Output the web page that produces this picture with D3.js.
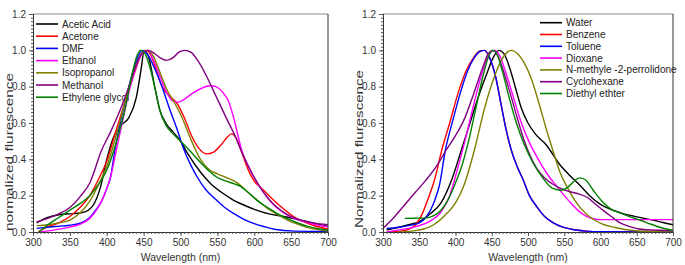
<!DOCTYPE html>
<html>
<head>
<meta charset="utf-8">
<script src="https://cdn.jsdelivr.net/npm/d3@7"></script>
<style>
  body { margin: 0; background: #fff; }
  svg { font-family: "Liberation Sans", Arial, sans-serif; }
</style>
</head>
<body>
<div id="chart"></div>
<script>
// ---- left panel (polar solvents) ----
const leftNames = ["Acetic Acid", "Acetone", "DMF", "Ethanol", "Isopropanol", "Methanol", "Ethylene glycol"];
const aceticAcid = [[305,0.05],[320,0.08],[335,0.095],[350,0.10],[365,0.105],[375,0.12],[382,0.15],[391,0.24],[400,0.4],[410,0.53],[420,0.59],[430,0.63],[440,0.74],[446,0.88],[451,1.0],[457,0.96],[465,0.8],[472,0.67],[480,0.6],[490,0.55],[500,0.5],[510,0.43],[527,0.33],[540,0.27],[555,0.22],[570,0.18],[585,0.15],[600,0.125],[620,0.1],[640,0.085],[660,0.068],[680,0.05],[700,0.03]];
const acetone = [[307,0.0],[320,0.03],[335,0.05],[350,0.085],[365,0.14],[377,0.2],[390,0.3],[400,0.39],[412,0.55],[425,0.72],[438,0.88],[447,0.98],[454,1.0],[460,0.97],[468,0.88],[475,0.8],[485,0.75],[495,0.71],[505,0.63],[515,0.53],[525,0.46],[535,0.43],[545,0.44],[555,0.48],[563,0.52],[569,0.54],[575,0.52],[582,0.45],[591,0.35],[600,0.28],[610,0.24],[620,0.2],[636,0.14],[655,0.08],[680,0.037],[700,0.015]];
const dmf = [[305,0.02],[330,0.03],[350,0.037],[365,0.05],[377,0.08],[385,0.12],[393,0.17],[400,0.24],[405,0.3],[411,0.45],[420,0.63],[430,0.8],[440,0.94],[448,1.0],[455,0.98],[465,0.9],[475,0.8],[485,0.68],[495,0.57],[505,0.45],[515,0.36],[523,0.3],[535,0.23],[545,0.19],[560,0.135],[573,0.1],[586,0.07],[600,0.046],[615,0.028],[627,0.015],[655,0.005],[700,0.003]];
const ethanol = [[309,0.0],[330,0.012],[350,0.027],[365,0.045],[377,0.075],[386,0.12],[393,0.17],[400,0.24],[405,0.3],[413,0.45],[422,0.62],[432,0.8],[442,0.93],[450,0.99],[456,1.0],[463,0.95],[472,0.86],[481,0.77],[490,0.72],[497,0.715],[505,0.73],[515,0.76],[528,0.79],[540,0.805],[548,0.8],[557,0.77],[565,0.72],[572,0.63],[578,0.53],[583,0.45],[591,0.37],[600,0.3],[614,0.21],[627,0.147],[640,0.105],[655,0.073],[670,0.055],[685,0.04],[700,0.028]];
const isopropanol = [[305,0.035],[320,0.04],[335,0.05],[350,0.065],[365,0.11],[377,0.17],[390,0.27],[400,0.36],[412,0.52],[425,0.72],[438,0.9],[447,0.98],[456,1.0],[463,0.97],[472,0.88],[482,0.78],[492,0.71],[502,0.63],[513,0.52],[527,0.4],[540,0.34],[550,0.32],[562,0.3],[573,0.28],[582,0.255],[591,0.22],[600,0.19],[618,0.13],[632,0.095],[645,0.066],[660,0.042],[673,0.024],[700,0.005]];
const methanol = [[305,0.055],[320,0.075],[335,0.1],[350,0.135],[365,0.2],[377,0.27],[393,0.45],[405,0.55],[418,0.67],[430,0.8],[440,0.92],[448,0.985],[456,1.0],[464,0.985],[472,0.96],[481,0.945],[490,0.96],[498,0.99],[506,1.0],[514,0.99],[524,0.94],[535,0.86],[549,0.74],[563,0.62],[575,0.52],[582,0.45],[591,0.37],[600,0.3],[609,0.24],[618,0.19],[627,0.15],[636,0.12],[650,0.085],[664,0.064],[680,0.05],[700,0.04]];
const ethyleneGlycol = [[308,0.0],[320,0.04],[335,0.08],[350,0.12],[365,0.16],[377,0.2],[390,0.27],[400,0.34],[412,0.48],[425,0.68],[435,0.88],[441,0.97],[446,1.0],[452,0.98],[459,0.9],[466,0.78],[472,0.67],[480,0.59],[490,0.54],[500,0.5],[512,0.45],[523,0.4],[535,0.35],[550,0.3],[562,0.28],[573,0.265],[582,0.25],[591,0.22],[605,0.17],[618,0.135],[632,0.1],[645,0.073],[660,0.048],[673,0.031],[687,0.018],[700,0.01]];

// ---- right panel (non polar solvents) ----
const rightNames = ["Water", "Benzene", "Toluene", "Dioxane", "N-methyle -2-perrolidone", "Cyclohexane", "Diethyl ethter"];
const water = [[305,0.012],[320,0.025],[335,0.04],[350,0.057],[365,0.1],[380,0.16],[395,0.29],[408,0.45],[420,0.6],[432,0.75],[443,0.87],[452,0.96],[460,1.0],[467,0.98],[475,0.9],[483,0.79],[491,0.68],[500,0.6],[510,0.54],[525,0.48],[544,0.37],[558,0.31],[571,0.26],[585,0.2],[599,0.155],[617,0.12],[632,0.1],[645,0.088],[660,0.075],[672,0.066],[686,0.052],[700,0.04]];
const benzene = [[305,0.0],[320,0.003],[335,0.015],[345,0.04],[353,0.09],[362,0.18],[372,0.3],[381,0.45],[392,0.6],[404,0.77],[415,0.89],[425,0.96],[433,0.995],[440,1.0],[447,0.96],[455,0.86],[463,0.7],[470,0.56],[477,0.45],[485,0.36],[493,0.29],[502,0.2],[512,0.14],[523,0.085],[535,0.05],[547,0.028],[560,0.015],[580,0.005],[600,0.001],[700,0.0]];
const toluene = [[305,0.02],[320,0.025],[335,0.035],[350,0.05],[360,0.085],[370,0.16],[378,0.26],[386,0.45],[396,0.61],[407,0.77],[417,0.89],[426,0.96],[434,0.995],[440,1.0],[447,0.96],[455,0.86],[463,0.7],[470,0.56],[477,0.45],[485,0.36],[493,0.29],[502,0.2],[512,0.14],[523,0.085],[535,0.05],[547,0.028],[560,0.015],[580,0.005],[600,0.001],[700,0.0]];
const dioxane = [[305,0.0],[320,0.01],[335,0.02],[350,0.035],[365,0.06],[380,0.11],[392,0.2],[403,0.35],[413,0.5],[425,0.7],[437,0.88],[447,0.98],[454,1.0],[461,0.97],[470,0.87],[480,0.74],[490,0.61],[500,0.51],[510,0.43],[520,0.36],[530,0.3],[540,0.25],[550,0.2],[560,0.155],[570,0.115],[580,0.088],[590,0.073],[600,0.068],[650,0.068],[700,0.068]];
const nmp = [[320,0.0],[340,0.005],[355,0.015],[370,0.04],[385,0.09],[400,0.16],[412,0.26],[426,0.45],[440,0.68],[455,0.87],[467,0.97],[477,1.0],[486,0.98],[495,0.93],[505,0.84],[515,0.71],[525,0.57],[535,0.44],[544,0.33],[555,0.24],[567,0.16],[580,0.1],[590,0.07],[605,0.04],[620,0.025],[645,0.008],[670,0.003],[700,0.0]];
const cyclohexane = [[300,0.02],[315,0.08],[330,0.15],[345,0.22],[360,0.29],[375,0.37],[387,0.45],[400,0.53],[412,0.62],[425,0.76],[437,0.9],[445,0.98],[451,1.0],[457,0.98],[465,0.9],[475,0.77],[485,0.63],[495,0.5],[503,0.42],[512,0.35],[525,0.29],[540,0.25],[555,0.225],[570,0.21],[582,0.19],[594,0.15],[605,0.115],[615,0.085],[627,0.05],[640,0.03],[663,0.012],[700,0.008]];
const diethylEther = [[330,0.075],[345,0.076],[360,0.078],[370,0.09],[380,0.12],[390,0.18],[400,0.27],[410,0.38],[418,0.5],[428,0.68],[438,0.86],[446,0.97],[451,1.0],[457,0.98],[465,0.88],[474,0.74],[484,0.6],[495,0.48],[507,0.38],[520,0.3],[534,0.24],[546,0.23],[556,0.25],[565,0.285],[572,0.298],[580,0.285],[590,0.23],[603,0.165],[615,0.125],[627,0.105],[640,0.085],[654,0.066],[668,0.045],[682,0.026],[700,0.008]];

const colors = ["#000000", "#ff0000", "#0000ff", "#ff00ff", "#808000", "#800080", "#008000"];
const xTicks = [300, 350, 400, 450, 500, 550, 600, 650, 700];
const yTicks = [0.0, 0.2, 0.4, 0.6, 0.8, 1.0, 1.2];

const svg = d3.select("#chart").append("svg")
    .attr("width", 685)
    .attr("height", 265);

function drawPanel(opt) {
    const x = d3.scaleLinear().domain([300, 700]).range([opt.left, opt.right]);
    const y = d3.scaleLinear().domain([0, 1.2]).range([232, 14]);
    const g = svg.append("g");

    // legend first (curves are drawn over it)
    const leg = g.append("g");
    opt.names.forEach((n, i) => {
        const ly = opt.legY + i * opt.legStep;
        leg.append("line")
            .attr("x1", opt.legX).attr("x2", opt.legX + 22)
            .attr("y1", ly).attr("y2", ly)
            .attr("stroke", colors[i]).attr("stroke-width", 1.6);
        leg.append("text")
            .attr("x", opt.legX + 26).attr("y", ly + 3.5)
            .attr("font-size", 10).attr("fill", "#222")
            .text(n);
    });

    // curves
    const line = d3.line()
        .x(d => x(d[0]))
        .y(d => y(d[1]))
        .curve(d3.curveMonotoneX);
    opt.series.forEach((s, i) => {
        g.append("path")
            .datum(s)
            .attr("d", line)
            .attr("fill", "none")
            .attr("stroke", colors[i])
            .attr("stroke-width", 1.4);
    });

    // frame
    g.append("line").attr("x1", opt.left).attr("x2", opt.right).attr("y1", 14).attr("y2", 14)
        .attr("stroke", "#888").attr("stroke-width", 1);
    g.append("line").attr("x1", opt.right).attr("x2", opt.right).attr("y1", 14).attr("y2", 232)
        .attr("stroke", "#333").attr("stroke-width", 1);

    // axes
    const xAxis = g.append("g")
        .attr("transform", `translate(0,232)`)
        .call(d3.axisBottom(x).tickValues(xTicks).tickSize(4).tickPadding(3).tickFormat(d3.format("d")));
    const xMinor = g.append("g")
        .attr("transform", `translate(0,232)`)
        .call(d3.axisBottom(x).tickValues(d3.range(300, 701, 5)).tickSize(2).tickFormat(""));
    const yAxis = g.append("g")
        .attr("transform", `translate(${opt.left},0)`)
        .call(d3.axisLeft(y).tickValues(yTicks).tickSize(4).tickPadding(3).tickFormat(d3.format(".1f")));
    const yMinor = g.append("g")
        .attr("transform", `translate(${opt.left},0)`)
        .call(d3.axisLeft(y).tickValues(d3.range(0, 1.201, 0.02)).tickSize(2).tickFormat(""));

    [xAxis, xMinor, yAxis, yMinor].forEach(a => {
        a.select(".domain").attr("stroke", "#333");
        a.selectAll(".tick line").attr("stroke", "#555");
        a.selectAll("text").attr("font-size", 10).attr("fill", "#333")
            .attr("font-family", "Liberation Sans, Arial, sans-serif");
    });

    // titles
    g.append("text")
        .attr("x", (opt.left + opt.right) / 2).attr("y", 261)
        .attr("text-anchor", "middle").attr("font-size", 10.5).attr("fill", "#333")
        .text("Wavelength (nm)");
    g.append("text")
        .attr("transform", `translate(${opt.yTitleX},${opt.yTitleY}) rotate(-90)`)
        .attr("text-anchor", "middle").attr("font-size", 11.5).attr("fill", "#333")
        .attr("textLength", 158).attr("lengthAdjust", "spacingAndGlyphs")
        .text(opt.yTitle);
}

drawPanel({
    left: 33, right: 328,
    names: leftNames,
    series: [aceticAcid, acetone, dmf, ethanol, isopropanol, methanol, ethyleneGlycol],
    legX: 36, legY: 24, legStep: 12.2,
    yTitle: "normalized flurescence", yTitleX: 13, yTitleY: 152
});

drawPanel({
    left: 383, right: 673,
    names: rightNames,
    series: [water, benzene, toluene, dioxane, nmp, cyclohexane, diethylEther],
    legX: 540, legY: 22.7, legStep: 11.8,
    yTitle: "Normalized flurescence", yTitleX: 363, yTitleY: 149
});
</script>
</body>
</html>
